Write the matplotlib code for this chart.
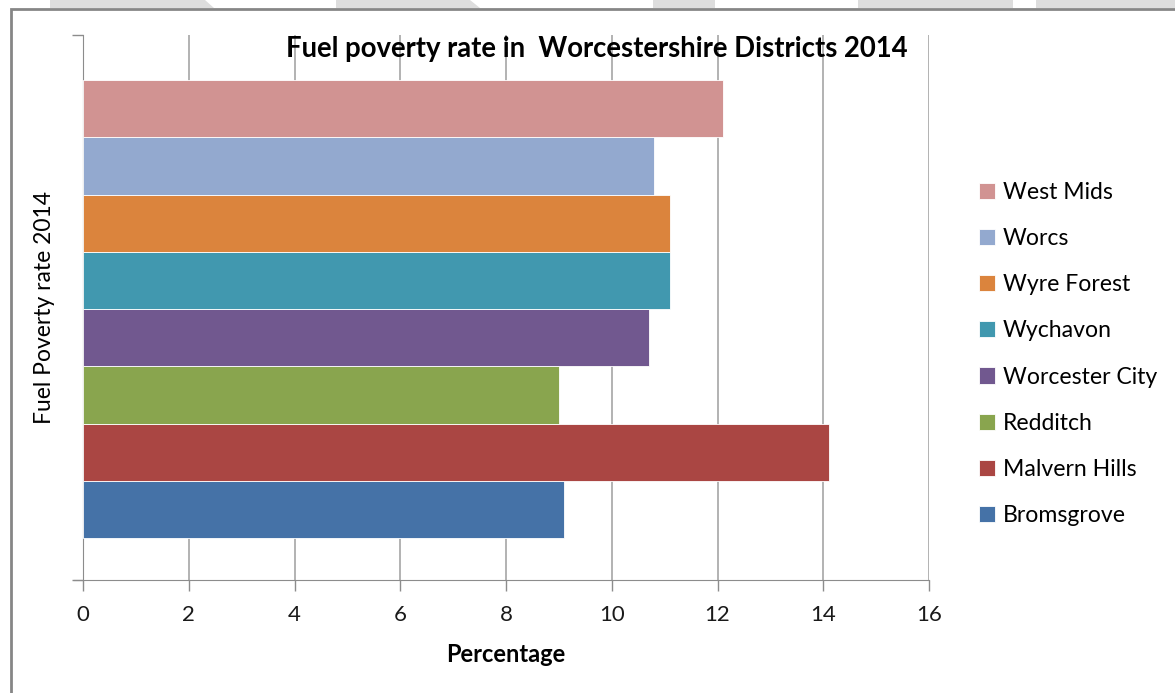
import matplotlib
matplotlib.use("Agg")
import matplotlib.pyplot as plt
from matplotlib.patches import Polygon, Rectangle

plt.rcParams['font.family'] = ['Lato', 'DejaVu Sans']

# data (bottom to top, as drawn)
districts = ['Bromsgrove', 'Malvern Hills', 'Redditch', 'Worcester City',
             'Wychavon', 'Wyre Forest', 'Worcs', 'West Mids']
rates = [9.1, 14.1, 9.0, 10.7, 11.1, 11.1, 10.8, 12.1]
colors = ['#4572A7', '#AA4643', '#89A54E', '#71588F',
          '#4198AF', '#DB843D', '#93A9CF', '#D19392']
xticks = [0, 2, 4, 6, 8, 10, 12, 14, 16]

fig = plt.figure(figsize=(11.75, 6.93), dpi=100)
W, H = 1175, 693

def fx(x):
    return x / W

def fy(y):
    return 1 - y / H

# grey band at top of the page with white gaps
band = [(50, 205, 214), (336, 470, 480), (653, 715, 715), (858, 1013, 1013), (1036, 1175, 1175)]
for x0, x1, x2 in band:
    fig.patches.append(Polygon([(fx(x0), fy(0)), (fx(x1), fy(0)), (fx(x2), fy(8)), (fx(x0), fy(8))],
                               closed=True, transform=fig.transFigure, facecolor='#dddddd',
                               edgecolor='none', zorder=0))
# chart frame
fig.patches.append(Rectangle((fx(11), fy(700)), fx(1200), fy(9) - fy(700), transform=fig.transFigure,
                             facecolor='none', edgecolor='#868686', linewidth=2, zorder=1))

ax = fig.add_axes([fx(83), fy(580), fx(929 - 83), fy(35) - fy(580)])
ax.patch.set_alpha(0)

ypos = list(range(len(districts)))
bars = ax.barh(ypos, rates, height=1.0, color=colors, edgecolor='white', linewidth=0.6, zorder=3)

ax.set_xlim(0, 16)
ax.set_ylim(-1.23, 8.29)
ax.set_xticks(xticks)
ax.set_xticklabels([str(t) for t in xticks], fontsize=16)
ax.tick_params(axis='x', length=8, color='#8c8c8c', width=1, pad=10, labelcolor='#1a1a1a')
ax.set_yticks([-1.23, 8.29])
ax.set_yticklabels([])
ax.tick_params(axis='y', length=8, color='#8c8c8c', width=1)
ax.grid(axis='x', color='#a6a6a6', linewidth=1.2, zorder=0)

for s in ['top', 'right']:
    ax.spines[s].set_visible(False)
ax.spines['left'].set_color('#8c8c8c')
ax.spines['bottom'].set_color('#8c8c8c')
ax.spines['bottom'].set_bounds(-0.17, 16)

fig.text(fx(506), fy(654), 'Percentage', fontsize=17, fontweight='bold', ha='center', va='center')
fig.text(fx(45), fy(308), 'Fuel Poverty rate 2014', fontsize=16.5, rotation=90,
         ha='center', va='center')
fig.text(fx(597), fy(49), 'Fuel poverty rate in  Worcestershire Districts 2014',
         fontsize=19.8, fontweight='bold', ha='center', va='center')

handles = [bars[i] for i in reversed(ypos)]
labels = [districts[i] for i in reversed(ypos)]
fig.legend(handles, labels, loc='center left', bbox_to_anchor=(fx(958), fy(354)),
           frameon=False, fontsize=16.6, handlelength=0.7, handleheight=0.7,
           handletextpad=0.35, labelspacing=1.09)

fig.savefig('out.png', dpi=100)
